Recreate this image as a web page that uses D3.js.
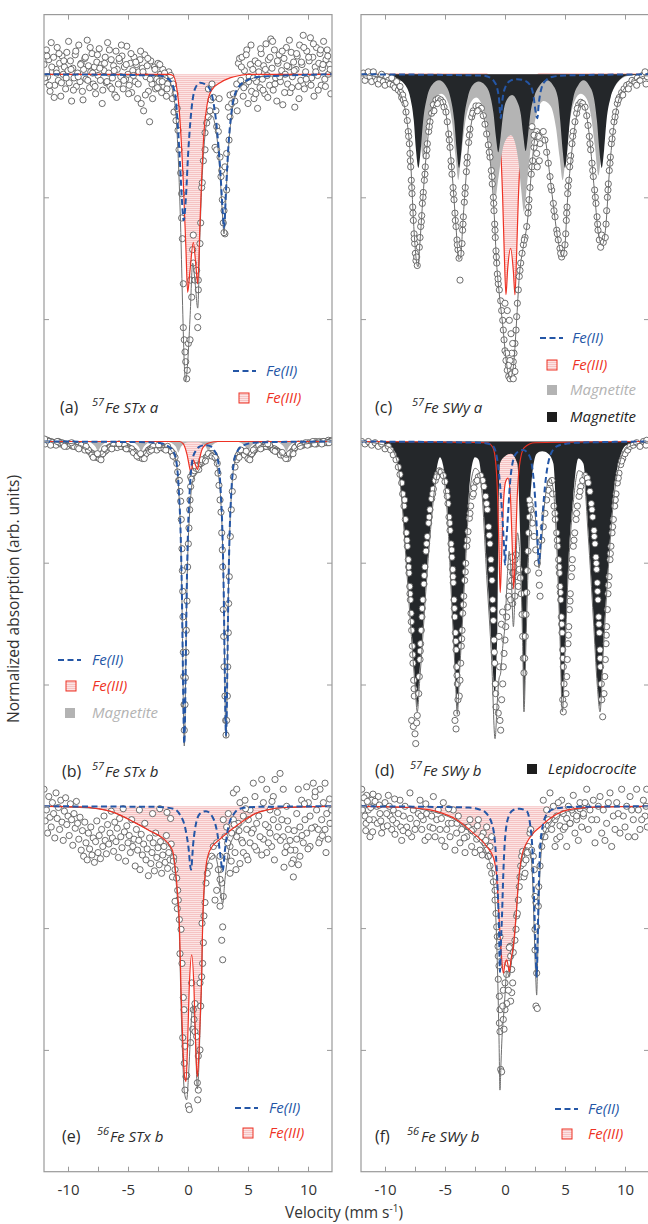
<!DOCTYPE html>
<html>
<head>
<meta charset="utf-8">
<script src="https://cdnjs.cloudflare.com/ajax/libs/d3/7.8.5/d3.min.js"></script>
<style>
  body { margin: 0; background: #fff; }
  svg text { font-family: "Open Sans", "Noto Sans", sans-serif; }
</style>
</head>
<body>
<div class="chart"></div>
<script>
// Mossbauer spectra, six panels. Each point is [velocity (mm/s), depth below the panel baseline]
// depth unit: 100 = one y-tick interval

var seriesNames = ["Fe(II)", "Fe(III)", "Magnetite", "Lepidocrocite"];
var panelTags = ["(a)", "(b)", "(c)", "(d)", "(e)", "(f)"];
var panelIsotopes = ["57", "57", "57", "57", "56", "56"];
var panelSamples = ["Fe STx a", "Fe STx b", "Fe SWy a", "Fe SWy b", "Fe STx b", "Fe SWy b"];
var majorTicks = [-10, -5, 0, 5, 10];
var minorTicks = [-7.5, -2.5, 2.5, 7.5];
var yTicks = [1, 2, 3, 4, 5, 6, 7, 8, 9];

// ---------- (a) 57Fe STx a ----------
var aPoints = [[-12,-8],[-11.9,6],[-11.8,-20],[-11.7,2],[-11.6,-12],[-11.5,14],[-11.4,-26],[-11.3,-2],[-11.2,-14],[-11.1,9],[-11,-4],[-10.9,-22],[-10.8,5],[-10.7,-9],[-10.6,18],[-10.5,-15],[-10.4,0],[-10.3,-6],[-10.2,12],[-10.1,-18],[-10,-3],[-9.9,7],[-9.8,-11],[-9.7,22],[-9.6,-5],[-9.5,3],[-9.4,-16],[-9.3,10],[-9.2,-1],[-9.1,-24],[-9,6],[-8.9,-9],[-8.8,14],[-8.7,-4],[-8.6,-13],[-8.5,4],[-8.4,-28],[-8.3,-7],[-8.2,11],[-8.1,-2],[-8,-17],[-7.9,8],[-7.8,-6],[-7.7,16],[-7.6,-10],[-7.5,1],[-7.4,-21],[-7.3,5],[-7.2,-8],[-7.1,13],[-7,-3],[-6.9,-14],[-6.8,7],[-6.7,-26],[-6.6,-1],[-6.5,10],[-6.4,-12],[-6.3,3],[-6.2,-7],[-6.1,17],[-6,-19],[-5.9,-4],[-5.8,8],[-5.7,-11],[-5.6,2],[-5.5,-15],[-5.4,12],[-5.3,-6],[-5.2,4],[-5.1,-23],[-5,0],[-4.9,9],[-4.8,-9],[-4.7,15],[-4.6,-3],[-4.5,-14],[-4.4,6],[-4.3,-8],[-4.2,20],[-4.1,-2],[-4,-12],[-3.9,24],[-3.8,-5],[-3.7,30],[-3.6,-16],[-3.5,2],[-3.4,-7],[-3.3,14],[-3.2,39],[-3.1,-11],[-3,8],[-2.9,3],[-2.8,-6],[-2.7,12],[-2.6,4],[-2.5,-9],[-2.4,6],[-2.3,0],[-2.2,15],[-2.1,-4],[-2,10],[-1.9,3],[-1.8,18],[-1.7,8],[-1.6,-2],
  [-11.95,3],[-11.75,-15],[-11.55,9],[-11.35,-6],[-11.15,19],[-10.95,-1],[-10.75,-17],[-10.55,7],[-10.35,-11],[-10.15,3],[-9.95,-27],[-9.75,-4],[-9.55,13],[-9.35,-19],[-9.15,2],[-8.95,-8],[-8.75,21],[-8.55,-14],[-8.35,5],[-8.15,-22],[-7.95,-1],[-7.75,10],[-7.55,-16],[-7.35,-5],[-7.15,24],[-6.95,-9],[-6.75,6],[-6.55,-20],[-6.35,12],[-6.15,-3],[-5.95,19],[-5.75,-13],[-5.55,-24],[-5.35,5],[-5.15,-8],[-4.95,16],[-4.75,-17],[-4.55,1],[-4.35,-10],[-4.15,8],[-3.95,-19],[-3.75,-2],[-3.55,17],[-3.35,-13],[-3.15,4],[-2.95,20],[-2.75,-4],[-2.55,11],[-2.35,-8],[-2.15,6],[-1.95,-1],[-1.75,12],
  [-1.44,1],[-1.3,20],[-1.22,8],[-1.08,16],[-1.17,31],[-1,38],[-0.9,28],[-0.83,46],[-0.75,62],[-0.61,81],[-0.53,98],[-0.53,118],[-0.47,135],[-0.39,172],[-0.39,208],[-0.31,218],[-0.25,228],[-0.19,236],[-0.06,243],[-0.11,250],[0.03,221],[0.17,218],[0.31,183],[0.22,169],[0.44,155],[0.39,144],[0.44,132],[0.58,169],[0.72,161],[0.86,169],[0.86,177],[0.81,199],[0.81,208],[1,139],[1.06,122],[1.14,93],[1.19,89],[1.28,71],[1.42,62],[1.42,48],[1.56,40],[1.69,35],[1.7,12],[1.83,30],[1.92,21],[2,8],[2.11,19],[2.39,43],[2.53,47],[2.25,60],[2.39,62],[2.33,30],[2.6,20],[2.67,68],[2.81,79],[2.75,84],[3.08,76],[3.22,65],[2.86,103],[3,112],[2.94,122],[3.08,131],[3,130],[3.22,95],[3.42,54],[3.5,35],[3.36,27],[3.64,24],[3.5,17],[3.78,16],[3.9,22],[4.06,8],[4.1,30],[4.2,-9],[4.3,-13],
  [4.4,5],[4.5,-14],[4.6,18],[4.7,-3],[4.8,9],[4.9,-20],[5,24],[5.1,2],[5.2,-8],[5.3,14],[5.4,-4],[5.5,20],[5.6,-11],[5.7,6],[5.8,28],[5.9,-2],[6,11],[6.1,-17],[6.2,4],[6.3,-7],[6.4,16],[6.5,-25],[6.6,1],[6.7,-12],[6.8,9],[6.9,-29],[7,-5],[7.1,13],[7.2,-20],[7.3,3],[7.4,22],[7.5,-9],[7.6,-16],[7.7,6],[7.8,-3],[7.9,25],[8,-13],[8.1,0],[8.2,-22],[8.3,8],[8.4,-6],[8.5,15],[8.6,-18],[8.7,2],[8.8,-10],[8.9,27],[9,-4],[9.1,-15],[9.2,10],[9.3,-24],[9.4,5],[9.5,-8],[9.6,-32],[9.7,12],[9.8,-2],[9.9,-19],[10,7],[10.1,-11],[10.2,-30],[10.3,3],[10.4,-14],[10.5,18],[10.6,-6],[10.7,-22],[10.8,1],[10.9,-9],[11,-17],[11.1,9],[11.2,-5],[11.3,-27],[11.4,4],[11.5,-12],[11.6,-20],[11.7,0],[11.8,-8],[11.9,16],[12,-3],
  [4.45,-6],[4.65,11],[4.85,-16],[5.05,6],[5.25,-24],[5.45,3],[5.65,16],[5.85,-9],[6.05,-21],[6.25,13],[6.45,-4],[6.65,19],[6.85,-14],[7.05,-27],[7.25,8],[7.45,-11],[7.65,2],[7.85,-19],[8.05,15],[8.25,-7],[8.45,-28],[8.65,11],[8.85,-3],[9.05,-17],[9.25,20],[9.45,-10],[9.65,-22],[9.85,4],[10.05,-14],[10.25,9],[10.45,-25],[10.65,-2],[10.85,13],[11.05,-20],[11.25,-8],[11.45,10],[11.65,-15],[11.85,-4]];
var aFe2 = [[-12,0],[-2.5,1],[-1.6,4],[-1.08,16],[-0.81,48],[-0.61,84],[-0.47,109],[-0.36,120],[-0.2,105],[0.03,62],[0.31,27],[0.58,12],[1,7],[1.67,10],[2.08,21],[2.39,43],[2.67,76],[2.89,112],[3,126],[3.17,95],[3.36,60],[3.64,30],[4.06,13],[4.9,5],[6,2],[12,0]];
var aFe3 = [[-12,0],[-1.6,0],[-1.25,1],[-0.81,21],[-0.39,89],[-0.17,144],[-0.03,179],[0.17,161],[0.44,138],[0.64,155],[0.81,172],[1,122],[1.14,85],[1.33,48],[1.61,24],[1.97,13],[2.67,7],[3.5,3],[4.3,1],[5,0],[12,0]];
var aTotal = [[-12,0],[-2.5,1],[-1.6,5],[-1.1,24],[-0.81,69],[-0.6,130],[-0.45,190],[-0.3,240],[-0.2,252],[-0.05,240],[0.17,200],[0.39,155],[0.6,172],[0.81,192],[1,130],[1.14,93],[1.33,60],[1.61,38],[1.97,34],[2.39,50],[2.67,82],[2.89,118],[3,131],[3.17,99],[3.36,63],[3.64,33],[4.06,15],[4.9,6],[6,2],[12,0]];

// ---------- (b) 57Fe STx b ----------
var bPoints = [[-12,0],[-11.85,1],[-11.7,-1],[-11.55,1],[-11.4,0],[-11.25,2],[-11.1,1],[-10.95,2],[-10.8,0],[-10.65,2],[-10.5,1],[-10.35,3],[-10.2,2],[-10.05,3],[-9.9,2],[-9.75,3],[-9.6,4],[-9.45,3],[-9.3,4],[-9.15,3],[-9,5],[-8.85,4],[-8.7,5],[-8.55,6],[-8.4,6],[-8.25,8],[-8.1,9],[-7.95,10],[-7.8,11],[-7.65,12],[-7.5,13],[-7.35,12],[-7.2,11],[-7.05,9],[-6.9,8],[-6.75,6],[-6.6,5],[-6.45,4],[-6.3,5],[-6.15,4],[-6,4],[-5.85,3],[-5.7,4],[-5.55,3],[-5.4,4],[-5.25,5],[-5.1,4],[-4.95,5],[-4.8,6],[-4.65,7],[-4.5,8],[-4.35,10],[-4.2,11],[-4.05,12],[-3.9,13],[-3.75,12],[-3.6,11],[-3.45,9],[-3.3,7],[-3.15,6],[-3,5],[-2.85,5],[-2.7,6],[-2.55,5],[-2.4,5],[-2.25,4],[-2.1,4],[-1.95,5],[-1.8,5],[-1.65,6],[-1.5,7],[-1.35,9],[-1.22,10],[-1.08,13],[-0.94,18],[-0.86,25],[-0.78,32],
  [-11.9,2],[-11.6,0],[-11.3,1],[-11,3],[-10.7,1],[-10.4,2],[-10.1,4],[-9.8,2],[-9.5,4],[-9.2,5],[-8.9,3],[-8.6,7],[-8.3,7],[-8,11],[-7.7,13],[-7.4,14],[-7.1,10],[-6.8,7],[-6.5,5],[-6.2,3],[-5.9,5],[-5.6,4],[-5.3,3],[-5,6],[-4.7,6],[-4.4,9],[-4.1,13],[-3.8,14],[-3.5,10],[-3.2,8],[-2.9,4],[-2.6,7],[-2.3,5],[-2,6],[-1.7,4],[-1.4,8],
  [-11.95,-2],[-11.45,3],[-10.9,0],[-10.3,4],[-9.7,1],[-9.1,6],[-8.5,4],[-7.9,13],[-7.55,10],[-7.25,15],[-6.95,6],[-6.35,6],[-5.75,2],[-5.15,6],[-4.55,9],[-4.25,12],[-3.95,10],[-3.65,14],[-3.05,7],[-2.45,3],[-1.85,7],[-1.25,12],
  [-0.72,32],[-0.67,41],[-0.61,49],[-0.56,64],[-0.5,88],[-0.47,106],[-0.44,123],[-0.42,144],[-0.39,173],[-0.36,193],[-0.33,216],[-0.31,237],[-0.25,216],[-0.22,194],[-0.17,173],[-0.14,155],[-0.08,131],[-0.03,103],[0.03,84],[0.08,71],[0.14,56],[0.17,48],[0.22,37],
  [0.22,29],[0.39,26],[0.53,24],[0.67,22],[0.81,21],[0.94,19],[1.08,18],[1.22,17],[1.36,15],[1.5,13],[1.64,12],[1.78,10],[1.92,10],[2.06,10],[2.19,11],[2.33,14],[2.44,18],[0.3,31],[0.6,20],[0.9,23],[1.15,15],[1.45,16],[1.7,10],[2,12],[2.25,13],
  [2.5,26],[2.58,36],[2.67,48],[2.75,58],[2.81,75],[2.86,89],[2.89,103],[2.94,138],[2.97,160],[3,185],[3.08,209],[3.14,229],[3.17,241],[3.22,229],[3.28,209],[3.31,185],[3.36,157],[3.39,133],[3.44,111],[3.53,78],[3.61,56],[3.69,41],[3.78,29],[3.92,21],[4.06,15],[4.19,11],
  [4.33,9],[4.5,8],[4.65,9],[4.8,10],[4.95,12],[5.1,13],[5.25,11],[5.4,9],[5.55,7],[5.7,5],[5.85,4],[6,4],[6.15,3],[6.3,4],[6.45,3],[6.6,4],[6.75,4],[6.9,5],[7.05,6],[7.2,6],[7.35,7],[7.5,8],[7.65,9],[7.8,10],[7.95,11],[8.1,12],[8.25,13],[8.4,12],[8.55,10],[8.7,8],[8.85,6],[9,4],[9.15,3],[9.3,3],[9.45,2],[9.6,3],[9.75,2],[9.9,2],[10.05,1],[10.2,2],[10.35,1],[10.5,1],[10.65,0],[10.8,1],[10.95,0],[11.1,1],[11.25,0],[11.4,1],[11.55,0],[11.7,-1],[11.85,0],[12,-1],
  [4.4,7],[4.7,11],[5,14],[5.3,10],[5.6,6],[5.9,3],[6.2,5],[6.5,4],[6.8,3],[7.1,7],[7.4,8],[7.7,11],[8,12],[8.3,14],[8.6,9],[8.9,5],[9.2,2],[9.5,3],[9.8,1],[10.1,2],[10.4,0],[10.7,2],[11,1],[11.3,0],[11.6,1],[11.9,0],
  [4.25,13],[4.85,8],[5.15,15],[5.45,7],[6.05,6],[6.65,2],[7.25,8],[7.85,9],[8.15,14],[8.45,10],[8.75,10],[9.35,4],[9.95,3],[10.55,2],[11.15,2],[11.75,1]];
var bFe2 = [[-12,0],[-4,0.5],[-2.5,1],[-1.81,3],[-1.31,7],[-1.01,14],[-0.76,41],[-0.61,77],[-0.51,124],[-0.41,198],[-0.36,233],[-0.31,248],[-0.26,233],[-0.21,198],[-0.11,124],[-0.01,77],[0.14,41],[0.39,14],[0.69,7],[1,4],[1.43,3],[1.9,4],[2.17,7],[2.47,14],[2.72,40],[2.87,75],[2.97,120],[3.07,193],[3.12,227],[3.17,241],[3.22,227],[3.27,193],[3.37,120],[3.47,75],[3.62,40],[3.87,14],[4.17,7],[4.67,3],[5.5,1],[7,0.5],[12,0]];
var bFe3 = [[-12,0],[-0.7,0],[-0.39,2],[-0.1,10],[0.17,23],[0.25,26],[0.44,15],[0.65,20],[0.8,23],[0.95,15],[1.15,7],[1.42,3],[1.8,1],[2.5,0],[12,0]];
var bMagnetite = [[-12,0],[-8.4,0.5],[-7.95,2],[-7.7,4.5],[-7.5,8],[-7.3,4.5],[-7.05,2],[-6.6,0.5],[-4.8,0.5],[-4.35,2],[-4.1,4.5],[-3.9,8],[-3.7,4.5],[-3.45,2],[-3,0.5],[-1.7,0.5],[-1.25,2],[-1,4.5],[-0.8,9],[-0.6,4.5],[-0.35,2],[0.1,0.5],[0.8,0.5],[1.25,2],[1.5,4.5],[1.7,8],[1.9,4.5],[2.15,2],[2.6,0.5],[4.1,0.5],[4.55,2],[4.8,4.5],[5,8],[5.2,4.5],[5.45,2],[5.9,0.5],[7.3,0.5],[7.75,2],[8,4.5],[8.2,8],[8.4,4.5],[8.65,2],[9.1,0.5],[12,0]];
var bTotal = [[-12,0],[-9.5,2],[-8.6,5],[-8,9],[-7.5,13],[-7,9],[-6.4,4],[-5.5,4],[-4.6,7],[-3.9,13],[-3.3,7],[-2.5,5],[-1.7,5],[-1.3,9],[-1.01,16],[-0.76,42],[-0.61,79],[-0.51,126],[-0.41,200],[-0.36,235],[-0.31,250],[-0.26,236],[-0.21,202],[-0.11,132],[-0.01,90],[0.14,58],[0.39,32],[0.69,27],[1,22],[1.43,15],[1.9,11],[2.17,13],[2.47,24],[2.72,46],[2.87,80],[2.97,124],[3.07,196],[3.12,229],[3.17,243],[3.22,229],[3.27,195],[3.37,122],[3.47,77],[3.62,43],[3.87,18],[4.17,11],[4.6,9],[5,12],[5.5,8],[6.2,4],[7.3,6],[8.2,13],[8.9,6],[9.8,2],[12,0]];

// ---------- (c) 57Fe SWy a ----------
var cPoints = [[-11.8,-1],[-11.67,5],[-11.53,1],[-11.39,-2],[-11.25,2],[-11.11,6],[-10.97,-2],[-10.83,2],[-10.69,5],[-10.56,8],[-10.42,4],[-10.28,0],[-10.14,6],[-10,9],[-9.86,2],[-9.72,5],[-9.58,8],[-9.44,3],[-9.31,9],[-9.17,11],[-9.03,6],[-8.89,13],[-8.75,10],[-8.69,15],[-8.61,19],[-8.53,17],[-8.47,21],
  [-8.33,24],[-8.25,31],[-8.14,38],[-8.06,47],[-7.97,57],[-7.92,65],[-7.86,76],[-7.81,87],[-7.75,98],[-7.69,109],[-7.64,120],[-7.58,131],[-7.53,139],[-7.47,147],[-7.42,153],[-7.31,157],[-8.03,51],[-7.89,71],[-7.78,93],[-7.67,114],[-7.56,135],[-7.36,150],
  [-7.14,142],[-7.08,134],[-7.03,125],[-6.94,116],[-6.89,106],[-6.81,97],[-6.72,87],[-6.64,76],[-6.56,67],[-6.47,57],[-6.36,47],[-6.25,39],[-6.11,32],[-5.97,25],[-5.75,21],[-5.56,20],[-5.36,21],[-5.19,23],[-6.97,121],[-6.83,101],[-6.67,82],[-6.5,62],[-6.31,43],[-5.92,30],[-5.64,24],[-5.08,27],
  [-4.92,31],[-4.81,39],[-4.69,49],[-4.58,60],[-4.5,71],[-4.42,82],[-4.33,93],[-4.25,103],[-4.17,114],[-4.08,125],[-4,136],[-3.92,144],[-3.83,151],[-3.75,169],[-4.64,54],[-4.47,76],[-4.31,98],[-4.14,120],[-3.97,140],
  [-3.67,147],[-3.58,139],[-3.53,128],[-3.47,117],[-3.39,105],[-3.31,93],[-3.22,80],[-3.14,68],[-3.03,56],[-2.92,45],[-2.78,35],[-2.64,30],[-2.42,26],[-2.19,26],[-1.97,28],[-3.5,123],[-3.33,98],[-3.17,73],[-2.97,50],[-2.69,32],[-2.31,30],
  [-1.81,34],[-1.67,41],[-1.53,49],[-1.39,58],[-1.25,68],[-1.14,79],[-1.06,90],[-0.97,101],[-0.92,112],[-0.86,123],[-0.81,134],[-0.75,145],[-0.69,155],[-0.64,164],[-0.56,172],[-0.47,177],[-1.31,64],[-1.08,84],[-0.94,106],[-0.83,128],[-0.72,150],[-0.58,168],
  [-0.36,186],[-0.28,194],[-0.19,202],[-0.14,210],[-0.08,218],[0,227],[0.08,235],[0.19,243],[0.31,248],[0.42,250],[0.56,246],[0.64,240],[0.69,236],[0.75,229],[0.83,221],[0.42,235],[0.56,229],[0.14,229],[0.28,239],[0.69,250],[0.83,244],[0.5,213],[0.64,221],[0.36,202],[0.19,194],[0,188],
  [0.92,210],[0.97,199],[1.03,188],[1.11,177],[1.19,166],[1.31,155],[1.42,147],[1.53,140],[1.67,134],[1.81,125],[1.92,114],[2,103],[2.08,93],[2.19,82],[2.31,71],[2.42,60],[2.53,51],[2.64,47],[2.78,51],[2.92,57],[1.25,161],[1.61,136],[1.97,109],[2.25,76],[2.47,56],[2.25,43],[2.42,50],[2.64,65],[2.86,71],[2.69,76],
  [3.19,47],[3.33,54],[3.47,64],[3.61,73],[3.75,84],[3.89,95],[4.03,106],[4.17,117],[4.31,128],[4.44,136],[4.58,143],[4.72,150],[3.81,92],[4.08,112],[4.36,131],[4.64,147],
  [4.92,147],[5,140],[5.06,131],[5.11,120],[5.17,109],[5.22,98],[5.31,87],[5.39,76],[5.47,67],[5.58,57],[5.69,47],[5.83,39],[5.97,32],[6.14,25],[6.31,23],[6.47,24],[5.14,114],[5.25,92],[5.42,71],[5.64,51],[6.03,28],
  [6.67,27],[6.81,34],[6.92,42],[7.03,51],[7.14,62],[7.25,73],[7.36,84],[7.47,95],[7.58,106],[7.67,117],[7.75,128],[7.86,136],[7.97,142],[7.08,57],[7.31,79],[7.53,101],[7.72,123],[8.06,132],[8.19,138],
  [8.36,134],[8.42,123],[8.47,112],[8.53,101],[8.61,90],[8.69,79],[8.78,68],[8.86,57],[8.97,47],[9.08,39],[9.22,31],[9.36,24],[9.53,19],[9.72,15],[9.92,12],[10.14,9],[10.36,8],[10.58,5],[10.81,6],[11.03,3],[11.25,5],[11.47,1],[11.67,-2],[11.86,2],[11.75,8],[8.58,95],[8.75,73],[8.92,53],[9.17,35],[9.44,21],[9.81,17],[10.28,12],[10.97,9]];
var cFe2 = [[-12,0],[-2,1],[-1.2,3],[-0.9,6],[-0.66,11],[-0.5,20],[-0.36,36],[-0.2,20],[0.05,10],[0.5,5],[1,4],[1.6,5],[2.1,9],[2.38,18],[2.54,30],[2.69,36],[2.84,22],[3.05,11],[3.4,5],[4,2],[5,1],[12,0]];
var cFe3 = [[-12,0],[-1.5,0],[-0.9,18],[-0.5,45],[-0.36,62],[-0.2,100],[-0.05,150],[0.08,181],[0.22,160],[0.47,143],[0.7,162],[0.83,181],[0.96,150],[1.1,105],[1.25,72],[1.5,40],[2,15],[2.8,0],[12,0]];
var cMagGrey = [[-12,0],[-9.5,1],[-8.8,4],[-8.2,9],[-7.7,18],[-7.3,35],[-7.05,55],[-6.8,70],[-6.55,55],[-6.25,35],[-5.8,20],[-5.3,16],[-4.8,22],[-4.4,40],[-4.12,68],[-3.89,87],[-3.66,68],[-3.35,42],[-2.9,24],[-2.4,19],[-1.9,26],[-1.5,45],[-1.1,80],[-0.83,103],[-0.55,85],[-0.2,62],[0.2,52],[0.5,50],[0.8,55],[1.1,70],[1.35,95],[1.58,113],[1.82,92],[2.15,60],[2.6,34],[3.2,22],[3.8,26],[4.25,44],[4.55,68],[4.81,87],[5.05,68],[5.35,42],[5.8,22],[6.3,16],[6.8,20],[7.2,36],[7.5,60],[7.78,83],[8.05,62],[8.35,38],[8.8,18],[9.3,8],[9.8,3],[10.5,1],[12,0]];
var cMagBlack = [[-12,0],[-9.6,1],[-8.9,4],[-8.3,9],[-7.9,19],[-7.6,38],[-7.42,62],[-7.22,77],[-7.02,62],[-6.82,38],[-6.5,19],[-6.1,9],[-5.5,5],[-4.95,9],[-4.55,19],[-4.23,38],[-4.03,62],[-3.83,77],[-3.63,62],[-3.43,38],[-3.1,19],[-2.7,9],[-2.2,6],[-1.65,9],[-1.25,17],[-0.96,32],[-0.76,51],[-0.56,64],[-0.36,51],[-0.16,33],[0.2,20],[0.6,17],[1,22],[1.32,33],[1.52,50],[1.72,63],[1.92,50],[2.12,32],[2.45,18],[2.9,9],[3.5,5],[4,9],[4.4,19],[4.6,38],[4.8,62],[5,77],[5.2,62],[5.4,38],[5.7,19],[6.1,9],[6.55,5],[7,9],[7.4,19],[7.66,38],[7.86,62],[8.06,77],[8.26,62],[8.46,38],[8.8,19],[9.2,9],[9.6,4],[10.2,1],[12,0]];
var cTotal = [[-12,0],[-9.5,6],[-8.9,12],[-8.5,22],[-8.2,36],[-7.9,65],[-7.6,125],[-7.4,152],[-7.25,158],[-7.1,140],[-6.9,110],[-6.6,70],[-6.3,42],[-5.9,25],[-5.4,20],[-5,28],[-4.7,50],[-4.4,82],[-4.1,123],[-3.85,152],[-3.7,150],[-3.5,120],[-3.25,85],[-3,55],[-2.6,32],[-2.2,27],[-1.8,34],[-1.4,58],[-1.1,85],[-0.9,115],[-0.7,155],[-0.5,178],[-0.2,205],[0.1,235],[0.4,250],[0.7,240],[0.95,205],[1.2,165],[1.5,143],[1.9,118],[2.2,80],[2.5,52],[2.7,47],[3,50],[3.3,52],[3.7,80],[4,105],[4.4,135],[4.8,150],[5,140],[5.2,105],[5.5,70],[5.9,38],[6.3,24],[6.6,26],[7,48],[7.4,90],[7.8,132],[8.1,140],[8.4,125],[8.7,80],[9,48],[9.4,24],[10,11],[11,4],[12,0]];

// ---------- (d) 57Fe SWy b ----------
var dPoints = [[-11.94,0],[-11.67,2],[-11.39,0],[-11.11,3],[-10.83,1],[-10.56,4],[-10.28,2],[-10,6],[-9.72,4],[-9.53,7],[-9.31,11],[-9.08,15],[-8.89,21],[-8.75,27],
  [-8.61,34],[-8.53,43],[-8.42,53],[-8.31,64],[-8.22,75],[-8.14,86],[-8.06,97],[-8,108],[-7.94,119],[-7.89,130],[-7.83,141],[-7.78,155],[-7.72,168],[-7.67,182],[-7.61,196],[-7.56,209],[-8.36,48],[-8.17,81],[-8.03,103],[-7.92,125],[-7.81,148],[-7.69,175],[-7.58,203],
  [-7.78,229],[-7.64,234],[-7.5,240],[-7.44,248],[-7.36,231],[-7.31,225],
  [-7.19,207],[-7.14,193],[-7.08,179],[-7.03,166],[-6.97,155],[-6.92,144],[-6.83,130],[-6.75,117],[-6.67,103],[-6.58,90],[-6.47,78],[-6.36,67],[-6.25,56],[-6.11,47],[-5.97,39],[-5.81,32],[-5.64,27],[-5.47,24],[-7.06,172],[-6.89,137],[-6.72,110],[-6.53,84],[-6.31,62],[-6.03,43],[-5.69,29],[-5.31,25],[-5.14,28],
  [-5,33],[-4.86,41],[-4.75,51],[-4.67,62],[-4.58,73],[-4.5,84],[-4.42,95],[-4.36,105],[-4.31,116],[-4.25,130],[-4.19,144],[-4.14,157],[-4.08,171],[-4.03,185],[-3.97,199],[-3.92,212],[-4.81,45],[-4.61,67],[-4.44,89],[-4.33,111],[-4.22,137],[-4.11,164],[-4,192],[-4.17,229],[-4.08,236],[-4.03,223],
  [-3.81,209],[-3.75,196],[-3.69,182],[-3.64,168],[-3.58,155],[-3.53,141],[-3.44,127],[-3.36,114],[-3.28,100],[-3.19,86],[-3.08,74],[-2.97,63],[-2.86,53],[-2.72,45],[-2.58,38],[-2.42,33],[-2.22,29],[-2.03,28],[-3.61,162],[-3.47,134],[-3.31,107],[-3.14,81],[-2.92,59],[-2.64,43],[-2.31,32],[-1.86,32],
  [-1.75,37],[-1.61,45],[-1.47,56],[-1.36,70],[-1.25,84],[-1.17,97],[-1.08,114],[-1.03,130],[-0.97,147],[-0.92,163],[-0.86,182],[-0.81,199],[-1.53,51],[-1.31,77],[-1.14,105],[-1,138],[-0.89,173],[-0.78,207],[-0.75,218],[-0.56,223],[-0.42,229],[-0.36,237],
  [-0.5,160],[-0.45,185],[-0.3,150],[-0.2,140],[-0.28,212],[-0.19,199],[-0.14,185],[-0.08,174],[0,163],[0.06,152],[0.14,144],[0.22,136],[0.31,127],[0.42,119],[0.56,114],[0.64,108],[0.75,103],[0.83,97],[0.92,93],[1.03,111],[1.11,119],[0.42,103],[0.56,95],[0.69,108],[0.83,127],[0.64,133],[0.47,130],[1.19,105],
  [1.28,112],[1.36,125],[1.42,142],[1.47,160],[1.53,178],[1.58,190],[1.64,178],[1.69,160],[1.75,142],[1.81,124],[1.86,106],[1.92,90],[1.97,75],[2.03,62],[2.1,52],
  [2.03,48],[2.17,56],[2.28,67],[2.42,78],[2.56,89],[2.69,100],[2.81,108],[2.86,118],[2.92,127],[3.06,81],[3.19,70],[3.33,59],[3.47,48],[3.61,40],[3.75,34],[3.92,32],
  [3.97,43],[4.08,53],[4.19,64],[4.31,75],[4.39,86],[4.47,97],[4.53,108],[4.58,119],[4.64,130],[4.69,144],[4.75,157],[4.81,171],[4.86,185],[4.92,199],[4.17,59],[4.36,81],[4.5,103],[4.61,124],[4.72,150],[4.83,178],[4.81,212],[4.86,222],[4.94,216],
  [5.08,207],[5.14,193],[5.19,179],[5.25,166],[5.31,152],[5.36,138],[5.44,125],[5.53,111],[5.61,97],[5.69,86],[5.81,75],[5.92,64],[6.03,53],[6.17,45],[6.31,37],[6.47,32],[6.67,28],[5.28,159],[5.42,131],[5.58,104],[5.75,81],[5.97,59],[6.25,41],[6.86,30],
  [6.94,34],[7.08,41],[7.19,51],[7.31,62],[7.42,73],[7.5,84],[7.58,95],[7.64,105],[7.69,116],[7.75,130],[7.81,144],[7.86,157],[7.92,171],[7.97,185],[8.03,199],[8.06,212],[7.25,56],[7.44,78],[7.61,100],[7.72,123],[7.83,150],[7.94,178],[8.14,226],
  [8.25,207],[8.31,193],[8.36,179],[8.42,166],[8.47,152],[8.53,138],[8.58,125],[8.67,111],[8.75,97],[8.83,86],[8.92,75],[9.03,64],[9.14,53],[9.25,43],[9.36,34],[9.5,26],[9.64,19],[9.81,14],[10,10],[8.44,159],[8.61,118],[8.78,92],[8.97,70],[9.19,48],[9.44,30],[9.72,16],
  [10.22,7],[10.42,4],[10.69,3],[10.97,1],[11.25,4],[11.53,0],[11.75,3],[11.81,-1]];
var dFe2 = [[-12,0],[-2,1],[-1.3,2],[-0.97,4],[-0.56,21],[-0.28,53],[-0.08,86],[0,101],[0.08,86],[0.19,70],[0.42,34],[0.69,15],[1,9],[1.5,7],[2,11],[2.22,18],[2.5,45],[2.69,78],[2.83,100],[2.95,85],[3.06,70],[3.33,37],[3.75,12],[4.31,4],[5,2],[6,1],[12,0]];
var dFe3 = [[-12,0],[-1.5,1],[-1,5],[-0.75,20],[-0.6,50],[-0.5,90],[-0.4,124],[-0.3,100],[-0.15,55],[0.05,33],[0.25,30],[0.45,45],[0.6,85],[0.72,121],[0.85,95],[1,50],[1.2,20],[1.6,5],[2.5,1],[12,0]];
var dLepido = [[-12,0],[-10.6,1],[-10,2],[-9.5,4],[-9.03,13],[-8.61,45],[-8.19,100],[-7.78,155],[-7.5,196],[-7.31,218],[-7.13,190],[-6.94,165],[-6.67,127],[-6.25,73],[-5.83,32],[-5.42,13],[-5.15,20],[-4.86,45],[-4.44,127],[-4.17,182],[-3.97,220],[-3.8,188],[-3.61,155],[-3.25,86],[-2.92,32],[-2.5,13],[-2.2,15],[-1.94,32],[-1.53,100],[-1.11,168],[-0.83,209],[-0.7,175],[-0.64,155],[-0.56,73],[-0.42,18],[0,12],[0.5,10],[1.03,18],[1.25,73],[1.47,155],[1.58,220],[1.75,155],[1.94,86],[2.22,32],[2.64,10],[3.1,8],[3.6,10],[4.03,18],[4.31,73],[4.58,155],[4.78,219],[5,168],[5.28,100],[5.69,45],[6.11,14],[6.53,18],[6.94,73],[7.36,141],[7.69,196],[7.92,218],[8.05,195],[8.19,168],[8.61,100],[9.03,45],[9.58,13],[10.1,3],[11,1],[12,0]];
var dTotal = [[-12,0],[-10.5,2],[-9.6,5],[-9,16],[-8.6,48],[-8.2,104],[-7.8,160],[-7.5,200],[-7.31,222],[-7.1,195],[-6.9,168],[-6.65,130],[-6.25,78],[-5.85,38],[-5.45,22],[-5.15,27],[-4.86,52],[-4.44,132],[-4.17,186],[-3.97,224],[-3.8,192],[-3.61,160],[-3.25,92],[-2.92,40],[-2.5,22],[-2.2,24],[-1.94,40],[-1.53,110],[-1.11,180],[-0.83,244],[-0.65,215],[-0.5,195],[-0.36,190],[-0.2,170],[0,150],[0.2,110],[0.35,90],[0.5,105],[0.7,152],[0.85,120],[1.03,75],[1.25,95],[1.47,165],[1.58,222],[1.75,165],[1.94,100],[2.22,55],[2.5,60],[2.69,85],[2.83,104],[3.06,80],[3.33,48],[3.75,30],[4.03,40],[4.31,85],[4.58,160],[4.78,222],[5,172],[5.28,105],[5.69,50],[6.11,24],[6.53,26],[6.94,78],[7.36,145],[7.69,200],[7.92,222],[8.19,172],[8.61,104],[9.03,50],[9.58,17],[10.1,6],[11,2],[12,0]];

// ---------- (e) 56Fe STx b ----------
var ePoints = [[-12,-14],[-11.9,12],[-11.8,3],[-11.7,22],[-11.6,-8],[-11.5,9],[-11.4,17],[-11.3,-3],[-11.2,6],[-11.1,26],[-11,-11],[-10.9,10],[-10.8,1],[-10.7,19],[-10.6,-5],[-10.5,13],[-10.4,28],[-10.3,4],[-10.2,-7],[-10.1,15],[-10,8],[-9.9,24],[-9.8,-2],[-9.7,11],[-9.6,32],[-9.5,6],[-9.4,18],[-9.3,-4],[-9.2,14],[-9.1,27],[-9,9],[-8.9,36],[-8.8,20],[-8.7,41],[-8.6,13],[-8.5,30],[-8.4,44],[-8.3,22],[-8.2,35],[-8.1,17],[-8,40],[-7.9,26],[-7.8,46],[-7.7,29],[-7.6,12],[-7.5,38],[-7.4,24],[-7.3,43],[-7.2,19],[-7.1,33],[-7,8],[-6.9,28],[-6.8,39],[-6.7,15],[-6.6,31],[-6.5,22],[-6.4,4],[-6.3,26],[-6.2,37],[-6.1,13],[-6,29],[-5.9,18],[-5.8,42],[-5.7,10],[-5.6,25],[-5.5,34],[-5.4,2],[-5.3,21],[-5.2,45],[-5.1,16],[-5,30],[-4.9,24],[-4.8,38],[-4.7,11],[-4.6,33],[-4.5,27],[-4.4,49],[-4.3,19],[-4.2,36],[-4.1,28],[-4.05,3],[-4,52],[-3.9,23],[-3.8,40],[-3.7,31],[-3.6,14],[-3.5,44],[-3.4,35],[-3.3,57],[-3.2,26],[-3.1,47],[-3,38],[-2.95,6],[-2.9,30],[-2.8,53],[-2.7,22],[-2.6,42],[-2.5,34],[-2.4,48],[-2.35,2],[-2.3,29],[-2.2,55],[-2.1,40],[-2,33],[-1.9,46],[-1.8,24],[-1.75,5],[-1.7,51],[-1.6,38],[-1.5,44],[-1.45,10],[-1.4,31],[-1.3,58],[-1.2,42],
  [-1.22,45],[-1.08,52],[-0.94,59],[-0.86,69],[-0.81,77],[-1.08,78],[-0.89,84],[-0.72,93],[-0.58,101],[-0.67,121],[-0.5,129],[-0.39,157],[-0.33,167],[-0.44,190],[-0.25,197],[-0.31,211],[-0.17,222],[-0.25,233],[0.03,246],[0.11,249],[-0.11,221],
  [0.31,145],[0.44,167],[0.58,162],[0.5,175],[0.39,183],[0.58,185],[0.22,194],[0.72,189],[0.86,205],[0.78,227],[0.86,233],[0.81,241],[1,200],[1.06,164],[1,145],[1.14,140],[1.22,129],[1.28,112],[1.17,96],[1.33,90],[1.42,79],[1.5,63],[1.61,55],[1.78,49],[1.97,41],[2.11,33],[2.39,30],[2.67,41],[2.67,52],[2.81,63],[2.94,74],[2.67,82],[2.89,99],[2.81,110],[2.89,126],[2.39,69],[2.25,77],[2.53,52],[2.67,60],
  [2.94,11],[3.08,25],[3.22,17],[3.36,6],[3.5,33],[3.64,22],[3.78,11],[3.92,38],[4.06,25],[4.19,14],[4.33,47],[4.47,28],[4.61,38],[3.5,55],[3.22,41],[4.89,41],[5.17,30],[5.44,19],[5.72,36],[6.28,27],[6.56,38],[6.83,22],[7.11,11],[7.53,17],[7.94,25],[8.22,33],[8.78,44],[9.06,27],[9.33,41],[9.89,22],[10.17,33],[10.58,17],[11,27],[11.42,19],[11.69,27],[11.92,14],
  [3.78,-11],[4.06,-14],[4.33,-3],[4.61,8],[4.75,-5],[4.89,19],[5.03,11],[5.17,3],[5.44,-19],[5.58,-8],[5.72,14],[6,25],[6.14,-22],[6.28,-3],[6.56,-14],[6.69,17],[6.83,3],[6.97,33],[7.11,-8],[7.25,-22],[7.39,25],[7.67,-27],[7.81,11],[7.94,-14],[8.08,38],[8.22,0],[8.36,19],[8.5,28],[8.64,47],[8.78,58],[8.92,36],[9.06,6],[9.19,-14],[9.33,17],[9.47,-5],[9.61,30],[9.75,11],[9.89,-16],[10.03,-3],[10.17,8],[10.44,-19],[10.58,-8],[10.72,3],[10.86,19],[11,-14],[11.14,11],[11.28,-3],[11.42,-19],[11.56,6],[11.83,14],[11.97,3],
  [3.3,30],[3.6,45],[3.85,15],[4,52],[4.25,20],[4.55,30],[4.8,2],[5,44],[5.3,22],[5.55,33],[5.9,8],[6.15,40],[6.45,15],[6.7,30],[7,-4],[7.2,44],[7.45,5],[7.7,28],[8,50],[8.3,12],[8.55,36],[8.85,20],[9.2,48],[9.5,24],[9.7,-2],[10,35],[10.3,18],[10.6,-12],[10.9,30],[11.2,24],[11.5,38],[11.8,-6]];
var eFe2 = [[-12,0],[-2.5,0.5],[-1.22,2],[-0.67,7],[-0.25,17],[0.03,33],[0.25,52],[0.44,30],[0.67,14],[1,6],[1.5,4],[2.11,10],[2.44,22],[2.67,38],[2.89,53],[3.08,36],[3.36,17],[3.78,7],[4.33,2],[5.5,0.5],[12,0]];
var eFe3 = [[-12,0],[-9,0.5],[-7.5,2],[-6.5,4],[-5.7,7],[-4.5,13],[-3.2,20],[-2,27],[-1.3,36],[-1.08,49],[-0.89,69],[-0.72,96],[-0.58,151],[-0.44,192],[-0.31,220],[-0.17,226],[-0.05,200],[0.1,150],[0.31,122],[0.5,150],[0.65,200],[0.78,222],[0.9,205],[1,178],[1.14,137],[1.22,96],[1.33,69],[1.5,49],[1.83,36],[2.67,27],[3.5,20],[4.6,12],[5.6,6],[6.6,3],[8,1],[12,0]];
var eTotal = [[-12,0],[-9,1],[-7.5,2],[-6.5,4],[-5.7,7],[-4.5,13],[-3.2,20],[-2,28],[-1.3,38],[-1.08,53],[-0.89,75],[-0.72,105],[-0.58,163],[-0.44,207],[-0.3,235],[-0.11,241],[0.05,220],[0.25,180],[0.4,164],[0.6,185],[0.78,232],[0.9,215],[1,184],[1.14,142],[1.22,100],[1.33,73],[1.5,53],[1.83,43],[2.2,40],[2.5,50],[2.7,68],[2.89,80],[3.08,60],[3.36,38],[3.78,25],[4.6,14],[5.6,6],[6.6,3],[8,1],[12,0]];

// ---------- (f) 56Fe SWy b ----------
var fPoints = [[-11.94,-14],[-11.81,-3],[-11.67,8],[-11.53,-9],[-11.39,3],[-11.25,25],[-11.11,-5],[-10.97,11],[-10.69,0],[-10.56,-8],[-10.42,6],[-10.14,17],[-10,-3],[-9.72,-9],[-9.58,8],[-9.44,19],[-9.31,3],[-9.03,14],[-8.75,-5],[-8.61,28],[-8.47,8],[-8.19,17],[-7.92,-11],[-7.78,25],[-7.64,3],[-7.36,14],[-7.08,-5],[-6.94,19],[-6.67,28],[-6.53,6],[-6.25,17],[-5.97,-8],[-5.83,25],[-5.69,11],[-5.42,19],[-5.14,-3],[-5,33],[-4.72,14],[-4.58,25],[-4.31,3],[-4.03,22],[-3.89,8],[-3.75,30],[-3.47,17],[-3.33,38],[-3.19,25],[-2.92,11],[-2.78,33],[-2.64,19],[-2.36,27],[-2.22,11],[-2.08,36],[-1.81,22],[-1.67,30],[-1.53,17],[-1.39,41],
  [-11.89,3],[-11.75,-7],[-11.58,14],[-11.47,-4],[-11.31,11],[-11.19,1],[-11.03,21],[-10.83,-4],[-10.64,14],[-10.47,-1],[-10.28,22],[-9.86,6],[-9.64,0],[-9.36,11],[-9.17,23],[-8.89,6],[-8.69,17],[-8.33,0],[-8.06,22],[-7.5,19],[-7.22,6],[-6.81,11],[-6.39,25],[-6.11,8],[-5.56,3],[-5.28,28],[-4.86,19],[-4.44,14],[-4.17,36],[-3.61,19],[-3.06,17],[-2.5,38],[-1.94,25],[-1.25,33],[-1.11,25],
  [-11.6,20],[-11,-10],[-10.35,12],[-9.8,16],[-9.2,-6],[-8.5,20],[-7.9,10],[-7,8],[-6.6,-2],[-6,18],[-5.3,10],[-4.7,2],[-4,14],[-3.4,26],[-2.8,20],[-2.3,16],[-1.9,40],[-1.6,28],
  [-1.53,36],[-1.39,41],[-1.25,49],[-1.11,55],[-0.97,62],[-0.83,69],[-0.83,77],[-0.75,88],[-0.69,99],[-0.64,107],[-0.58,115],[-0.56,123],[-0.5,131],[-0.56,142],[-0.47,156],[-0.42,167],[-0.47,178],[-0.42,185],[-0.36,216],[-0.28,218],[-0.42,107],
  [-0.14,151],[0,145],[0.14,138],[0.28,129],[0.42,115],[0.36,116],[0.47,123],[0.56,134],[0.64,145],[0.56,153],[0.47,160],[0.28,151],[0.14,162],[0,167],[-0.14,175],[-0.08,183],[-0.19,164],[0.69,120],[0.83,110],[0.92,101],[0.97,90],[1.03,88],[1.11,77],[1.19,66],[1.25,58],[1.31,49],[1.39,41],[1.47,37],[1.53,47],[1.58,58],[1.67,55],[1.75,44],[1.86,38],[1.94,33],[2.08,22],[2.14,19],[2.22,36],[2.36,41],[2.44,52],[2.5,74],[2.58,79],[2.5,101],[2.64,99],[2.5,118],[2.64,137],[2.58,164],[2.69,166],[2.78,82],[2.81,66],[2.92,49],[3.06,33],[3.19,25],[3.42,19],[3.61,16],[3.89,14],[4.17,11],[4.31,27],[4.58,16],[4.86,19],[5.14,10],[5.42,14],[5.69,6],[5.97,11],[6.25,2],[6.53,8],[6.81,0],
  [3.19,-5],[3.47,3],[3.61,11],[3.75,-11],[3.89,19],[4.03,0],[4.31,8],[4.58,25],[4.72,-5],[4.86,6],[5.14,33],[5.28,0],[5.42,14],[5.69,-9],[5.97,8],[6.11,28],[6.25,-3],[6.53,6],[6.81,-14],[6.94,19],[7.08,3],[7.36,-5],[7.5,30],[7.64,11],[7.92,-8],[8.06,22],[8.19,3],[8.47,14],[8.75,-11],[8.89,33],[9.03,8],[9.31,-3],[9.58,22],[9.72,-14],[9.86,8],[10.14,0],[10.28,25],[10.42,-8],[10.69,11],[10.97,-14],[11.11,3],[11.25,19],[11.53,-5],[11.67,8],[11.81,-14],
  [3.33,25],[4.17,33],[4.44,-3],[5,17],[5.56,3],[5.83,22],[6.39,17],[6.67,-3],[7.22,11],[7.78,0],[8.33,28],[8.61,-3],[9.17,19],[9.44,6],[10,17],[10.56,3],[10.83,25],[11.39,11],[11.75,0],[11.86,17]];
var fFe2 = [[-12,0],[-3,1],[-2,3],[-1.53,6],[-0.97,19],[-0.75,41],[-0.61,69],[-0.5,101],[-0.42,136],[-0.33,110],[-0.25,90],[-0.14,55],[0,27],[0.28,9],[0.69,3],[1.2,2],[1.81,4],[2.08,14],[2.31,41],[2.44,82],[2.56,120],[2.64,140],[2.72,110],[2.81,69],[2.92,36],[3.19,14],[3.61,5],[4.17,2],[5.5,0.5],[12,0]];
var fFe3 = [[-12,0],[-8,1],[-6.25,3],[-5.42,5],[-4.03,11],[-2.64,22],[-1.53,33],[-0.97,42],[-0.69,58],[-0.47,96],[-0.33,118],[-0.14,137],[0.02,128],[0.14,126],[0.26,131],[0.36,136],[0.5,126],[0.69,115],[0.92,90],[1.11,63],[1.39,41],[1.81,30],[2.36,22],[2.92,17],[3.75,10],[4.86,4],[6.25,1.5],[8,0.5],[12,0]];
var fTotal = [[-12,0],[-8,1],[-6.25,4],[-5.42,6],[-4.03,12],[-2.64,24],[-1.53,39],[-0.97,61],[-0.75,95],[-0.61,140],[-0.5,190],[-0.42,233],[-0.33,210],[-0.25,190],[-0.14,175],[0,155],[0.14,135],[0.36,140],[0.5,130],[0.69,118],[0.92,92],[1.11,65],[1.39,44],[1.81,34],[2.08,36],[2.31,63],[2.44,104],[2.56,140],[2.64,155],[2.72,125],[2.81,86],[2.92,53],[3.19,26],[3.75,15],[4.86,6],[6.25,2],[8,0.5],[12,0]];

// ---------------------------------------------------------------
var svgWidth = 648;
var svgHeight = 1224;
var frameTop = 14.6;
var frameBottom = 1171.7;

var svg = d3.select(".chart")
  .append("svg")
  .attr("width", svgWidth)
  .attr("height", svgHeight);

var columns = [
  { left: 44, right: 332 },
  { left: 361, right: 649 }
];

var xScales = columns.map(function(c) {
  return d3.scaleLinear().domain([-12, 12]).range([c.left, c.right]);
});

// one y scale shared by the three stacked panels of a column
var yScale = d3.scaleLinear().domain([0, 9.5]).range([frameBottom, frameTop]);

var defs = svg.append("defs");
var hatch = defs.append("pattern")
  .attr("id", "fe3Hatch")
  .attr("patternUnits", "userSpaceOnUse")
  .attr("width", 4)
  .attr("height", 2);
hatch.append("rect").attr("width", 4).attr("height", 2).attr("fill", "#fce4e4");
hatch.append("rect").attr("width", 4).attr("height", 1).attr("fill", "#f5c3c3");

columns.forEach(function(c, i) {
  defs.append("clipPath").attr("id", "clip" + i)
    .append("rect")
    .attr("x", c.left).attr("y", frameTop)
    .attr("width", c.right - c.left).attr("height", frameBottom - frameTop);
});

var panels = [
  { col: 0, base: 9.01, points: aPoints, fe2: aFe2, fe3: aFe3, total: aTotal,
    layers: ["fe3Fill", "points", "total", "fe3", "fe2"] },
  { col: 0, base: 5.995, points: bPoints, fe2: bFe2, fe3: bFe3, total: bTotal, grey: bMagnetite,
    layers: ["fe3Fill", "grey", "points", "total", "fe3", "fe2"] },
  { col: 1, base: 9.01, points: cPoints, fe2: cFe2, fe3: cFe3, total: cTotal, grey: cMagGrey, black: cMagBlack,
    layers: ["fe3Fill", "fe3", "grey", "black", "points", "total", "fe2"] },
  { col: 1, base: 5.995, points: dPoints, fe2: dFe2, fe3: dFe3, total: dTotal, black: dLepido,
    layers: ["fe3Fill", "black", "points", "total", "fe3", "fe2"] },
  { col: 0, base: 3.0, points: ePoints, fe2: eFe2, fe3: eFe3, total: eTotal,
    layers: ["fe3Fill", "points", "total", "fe3", "fe2"] },
  { col: 1, base: 3.0, points: fPoints, fe2: fFe2, fe3: fFe3, total: fTotal,
    layers: ["fe3Fill", "points", "total", "fe3", "fe2"] }
];

var blue = "#2456a6";
var red = "#ee3224";

function drawPanel(p) {
  var x = xScales[p.col];
  var g = svg.append("g").attr("clip-path", "url(#clip" + p.col + ")");
  var yOf = function(d) { return yScale(p.base - d[1] / 100); };

  var line = d3.line()
    .x(d => x(d[0]))
    .y(yOf)
    .curve(d3.curveMonotoneX);

  var area = d3.area()
    .x(d => x(d[0]))
    .y0(yScale(p.base))
    .y1(yOf)
    .curve(d3.curveMonotoneX);

  p.layers.forEach(function(layer) {
    if (layer === "fe3Fill") {
      g.append("path").datum(p.fe3).attr("d", area).attr("fill", "url(#fe3Hatch)");
    }
    else if (layer === "grey") {
      g.append("path").datum(p.grey).attr("d", area).attr("fill", "#b4b4b4");
    }
    else if (layer === "black") {
      g.append("path").datum(p.black).attr("d", area).attr("fill", "#24272a");
    }
    else if (layer === "points") {
      g.append("g").selectAll("circle")
        .data(p.points)
        .enter()
        .append("circle")
        .attr("cx", d => x(d[0]))
        .attr("cy", yOf)
        .attr("r", 3.1)
        .attr("fill", "#fff")
        .attr("stroke", "#4a4a4a")
        .attr("stroke-width", 0.8);
    }
    else if (layer === "total") {
      g.append("path").datum(p.total).attr("d", line)
        .attr("fill", "none").attr("stroke", "#6e6e6e").attr("stroke-width", 1);
    }
    else if (layer === "fe3") {
      g.append("path").datum(p.fe3).attr("d", line)
        .attr("fill", "none").attr("stroke", red).attr("stroke-width", 1.2);
    }
    else if (layer === "fe2") {
      g.append("path").datum(p.fe2).attr("d", line)
        .attr("fill", "none").attr("stroke", blue).attr("stroke-width", 2)
        .attr("stroke-dasharray", "6,3.5");
    }
  });
}

panels.forEach(drawPanel);

// frames and inward ticks
columns.forEach(function(c, i) {
  var x = xScales[i];
  var axes = svg.append("g");

  axes.append("g")
    .attr("transform", `translate(0, ${frameBottom})`)
    .call(d3.axisBottom(x).tickValues(majorTicks).tickSize(-5).tickPadding(13).tickFormat(d => String(d)));

  axes.append("g")
    .attr("transform", `translate(0, ${frameBottom})`)
    .call(d3.axisBottom(x).tickValues(minorTicks).tickSize(-5).tickFormat(""));

  axes.append("g")
    .attr("transform", `translate(0, ${frameTop})`)
    .call(d3.axisTop(x).tickValues(majorTicks).tickSize(-5).tickFormat(""));

  axes.append("g")
    .attr("transform", `translate(${c.left}, 0)`)
    .call(d3.axisLeft(yScale).tickValues(yTicks).tickSize(-5).tickFormat(""));

  axes.append("g")
    .attr("transform", `translate(${c.right}, 0)`)
    .call(d3.axisRight(yScale).tickValues(yTicks).tickSize(-5).tickFormat(""));

  axes.selectAll(".domain").remove();
  axes.selectAll(".tick line").attr("stroke", "#9a9a9a");
  axes.selectAll(".tick text")
    .attr("font-family", "'Open Sans', 'Noto Sans', sans-serif")
    .attr("font-size", 15)
    .attr("fill", "#333");

  axes.append("rect")
    .attr("x", c.left).attr("y", frameTop)
    .attr("width", c.right - c.left).attr("height", frameBottom - frameTop)
    .attr("fill", "none")
    .attr("stroke", "#9a9a9a")
    .attr("stroke-width", 1.2);
});

// panel titles
var titlePos = [
  { tag: 60, sup: 92, text: 105, y: 413 },
  { tag: 62, sup: 92, text: 105, y: 777 },
  { tag: 375, sup: 412, text: 424, y: 413 },
  { tag: 375, sup: 410, text: 423, y: 776 },
  { tag: 62, sup: 97, text: 110, y: 1142 },
  { tag: 375, sup: 407, text: 421, y: 1142 }
];

titlePos.forEach(function(t, i) {
  var txt = svg.append("text").attr("y", t.y).attr("fill", "#2a2a2a");
  txt.append("tspan").attr("x", t.tag).attr("font-size", 16).text(panelTags[i]);
  txt.append("tspan").attr("x", t.sup).attr("dy", -7).attr("font-size", 11)
    .attr("font-style", "italic").text(panelIsotopes[i]);
  txt.append("tspan").attr("x", t.text).attr("dy", 7).attr("font-size", 15)
    .attr("font-style", "italic").text(panelSamples[i]);
});

// legends
var legendItems = [
  { kind: "fe2", x: 233, y: 371, tx: 266, label: seriesNames[0] },
  { kind: "fe3", x: 239, y: 398, tx: 266, label: seriesNames[1] },

  { kind: "fe2", x: 58, y: 660, tx: 92, label: seriesNames[0] },
  { kind: "fe3", x: 66, y: 686, tx: 92, label: seriesNames[1] },
  { kind: "grey", x: 65, y: 713, tx: 92, label: seriesNames[2] },

  { kind: "fe2", x: 540, y: 338, tx: 572, label: seriesNames[0] },
  { kind: "fe3", x: 547, y: 365, tx: 572, label: seriesNames[1] },
  { kind: "grey", x: 547, y: 390, tx: 570, label: seriesNames[2] },
  { kind: "black", x: 547, y: 417, tx: 570, label: seriesNames[2] },

  { kind: "black", x: 527, y: 769, tx: 548, label: seriesNames[3] },

  { kind: "fe2", x: 235, y: 1108, tx: 269, label: seriesNames[0] },
  { kind: "fe3", x: 243, y: 1133, tx: 269, label: seriesNames[1] },

  { kind: "fe2", x: 555, y: 1109, tx: 588, label: seriesNames[0] },
  { kind: "fe3", x: 562, y: 1134, tx: 588, label: seriesNames[1] }
];

var legendColor = { fe2: blue, fe3: red, grey: "#b3b3b3", black: "#1e1e1e" };

legendItems.forEach(function(item) {
  if (item.kind === "fe2") {
    svg.append("line")
      .attr("x1", item.x).attr("x2", item.x + 23)
      .attr("y1", item.y).attr("y2", item.y)
      .attr("stroke", blue).attr("stroke-width", 2)
      .attr("stroke-dasharray", "6,3.5");
  }
  else if (item.kind === "fe3") {
    svg.append("rect")
      .attr("x", item.x).attr("y", item.y - 5)
      .attr("width", 10).attr("height", 10)
      .attr("fill", "url(#fe3Hatch)")
      .attr("stroke", red).attr("stroke-width", 1);
  }
  else {
    svg.append("rect")
      .attr("x", item.x).attr("y", item.y - 5)
      .attr("width", 10).attr("height", 10)
      .attr("fill", legendColor[item.kind]);
  }
  svg.append("text")
    .attr("x", item.tx)
    .attr("y", item.y + 5)
    .attr("font-size", 15)
    .attr("font-style", "italic")
    .attr("fill", legendColor[item.kind])
    .text(item.label);
});

// axis titles
svg.append("text")
  .attr("transform", "translate(19, 599) rotate(-90)")
  .attr("text-anchor", "middle")
  .attr("font-size", 15.5)
  .attr("fill", "#333")
  .text("Normalized absorption (arb. units)");

var xTitle = svg.append("text")
  .attr("x", 344)
  .attr("y", 1218)
  .attr("text-anchor", "middle")
  .attr("font-size", 15.5)
  .attr("fill", "#333");
xTitle.append("tspan").text("Velocity (mm s");
xTitle.append("tspan").attr("dy", -6).attr("font-size", 10).text("-1");
xTitle.append("tspan").attr("dy", 6).text(")");
</script>
</body>
</html>
